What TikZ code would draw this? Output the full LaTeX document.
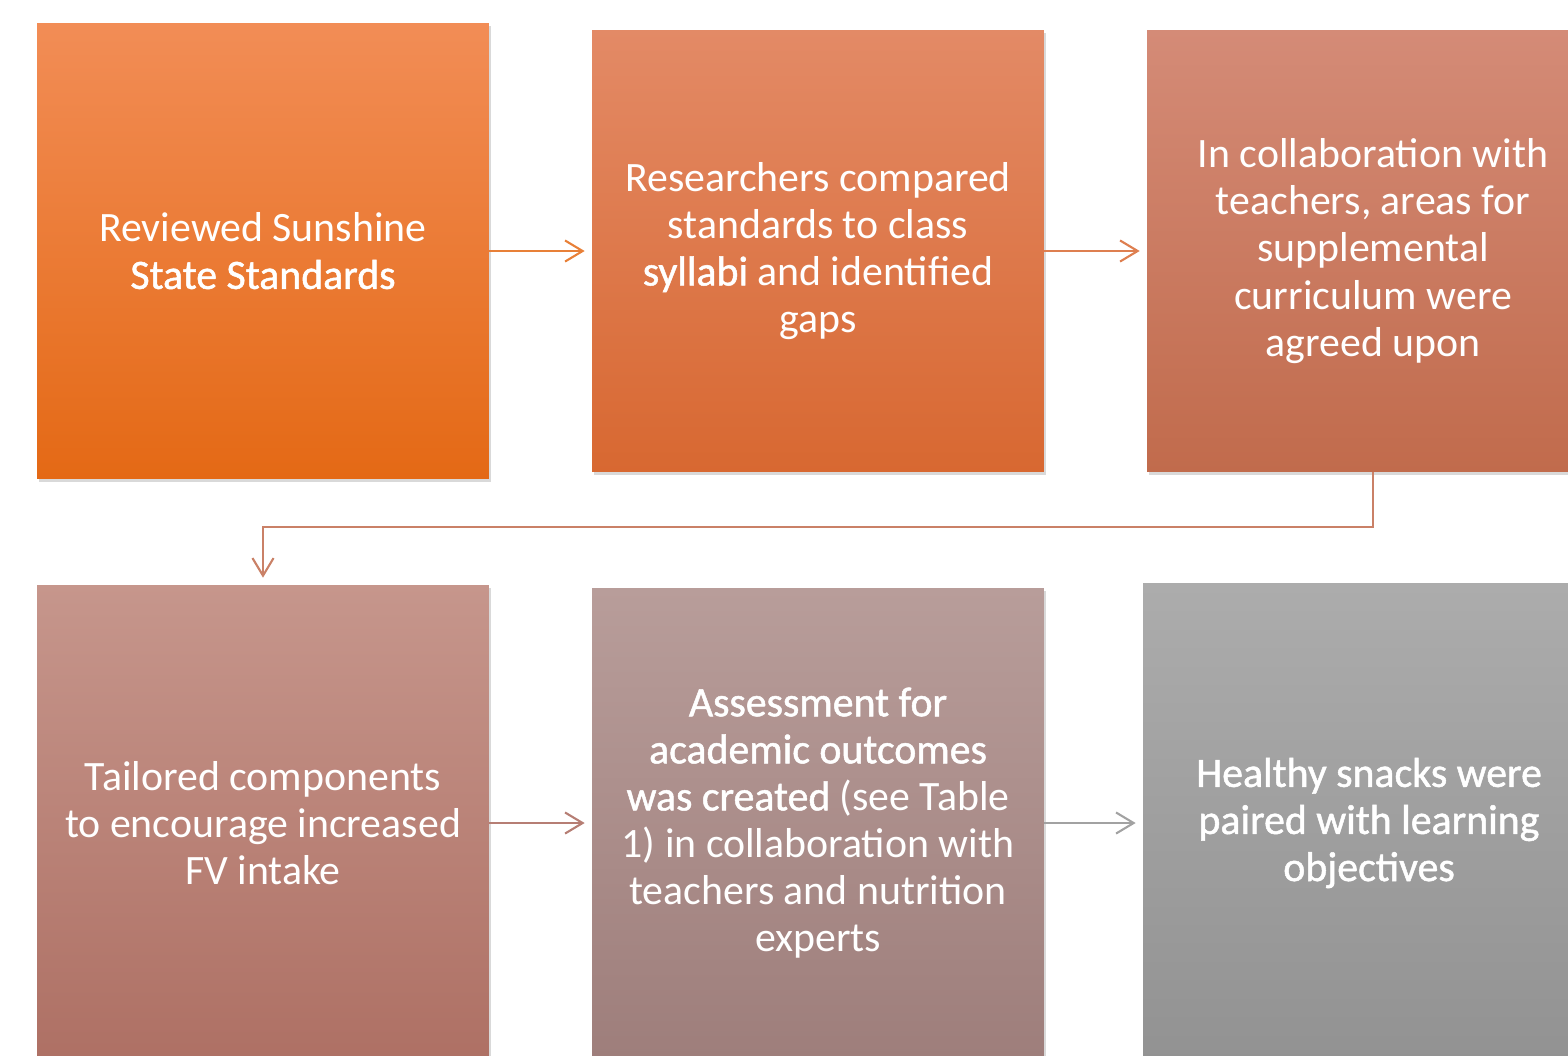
\documentclass[tikz,border=0pt]{standalone}
\usepackage{fontspec}
\setmainfont{Carlito}
\newfontfamily\heavyfont[FakeBold=1.2]{Carlito}
\usepackage{tikz}
\usetikzlibrary{arrows.meta, shadows}

% box shades, top to bottom
\definecolor{sunTop}{HTML}{F28D56}
\definecolor{sunBot}{HTML}{E46915}
\definecolor{gapTop}{HTML}{E38A66}
\definecolor{gapBot}{HTML}{D86831}
\definecolor{agreeTop}{HTML}{D48B77}
\definecolor{agreeBot}{HTML}{C16B4C}
\definecolor{tailorTop}{HTML}{C6968C}
\definecolor{tailorBot}{HTML}{AE7064}
\definecolor{assessTop}{HTML}{B89D9A}
\definecolor{assessBot}{HTML}{9E7E7B}
\definecolor{snackTop}{HTML}{ACACAC}
\definecolor{snackBot}{HTML}{929292}

\begin{document}
\begin{tikzpicture}[
            x=0.02cm, y=-0.02cm, % one unit per pixel, y going down
            stepbox/.style={rectangle, inner sep=0pt, minimum width=9.04cm, align=center,
                text=white, font=\fontsize{23.8}{26.8}\selectfont,
                drop shadow={shadow xshift=1.2pt, shadow yshift=-1.6pt, opacity=0.3}}, % shaded boxes
            link/.style={-{Straight Barb[length=10pt, width=12pt]}, line width=1.2pt, shorten >=4pt} % open arrows
            ]

        \useasboundingbox (0,0) rectangle (1568,1055);
        \clip (0,0) rectangle (1568,1055);

        % first row
        \node[stepbox, minimum height=9.12cm, top color=sunTop, bottom color=sunBot] (review) at (263,251)
            {Reviewed Sunshine\\ {\heavyfont State Standards}};
        \node[stepbox, minimum height=8.84cm, top color=gapTop, bottom color=gapBot] (compare) at (818,251)
            {Researchers compared\\ standards to class\\ {\heavyfont syllabi} and identified\\ gaps};
        \node[stepbox, minimum height=8.84cm, top color=agreeTop, bottom color=agreeBot] (agree) at (1373,251)
            {In collaboration with\\ teachers, areas for\\ supplemental\\ curriculum were\\ agreed upon};

        % second row
        \node[stepbox, minimum height=9.52cm, top color=tailorTop, bottom color=tailorBot] (tailor) at (263,823)
            {Tailored components\\ to encourage increased\\ FV intake};
        \node[stepbox, minimum height=9.4cm, top color=assessTop, bottom color=assessBot] (assess) at (818,823)
            {{\heavyfont Assessment for}\\ {\heavyfont academic outcomes}\\ {\heavyfont was created} (see Table\\ 1) in collaboration with\\ teachers and nutrition\\ experts};
        \node[stepbox, minimum height=9.6cm, top color=snackTop, bottom color=snackBot] (snack) at (1369,823)
            {{\heavyfont Healthy snacks were}\\ {\heavyfont paired with learning}\\ {\heavyfont objectives}};

        % connectors
        \draw[link, color=sunBot!85!white] (review.east) -- (compare.west);
        \draw[link, color=gapBot!85!white] (compare.east) -- (agree.west);
        \draw[link, color=agreeBot!85!white] (agree.south) -- ++(0,55) -| (tailor.north);
        \draw[link, color=tailorBot!90!white] (tailor.east |- assess.west) -- (assess.west);
        \draw[link, color=snackBot!85!white] (assess.east) -- (snack.west);

\end{tikzpicture}
\end{document}
